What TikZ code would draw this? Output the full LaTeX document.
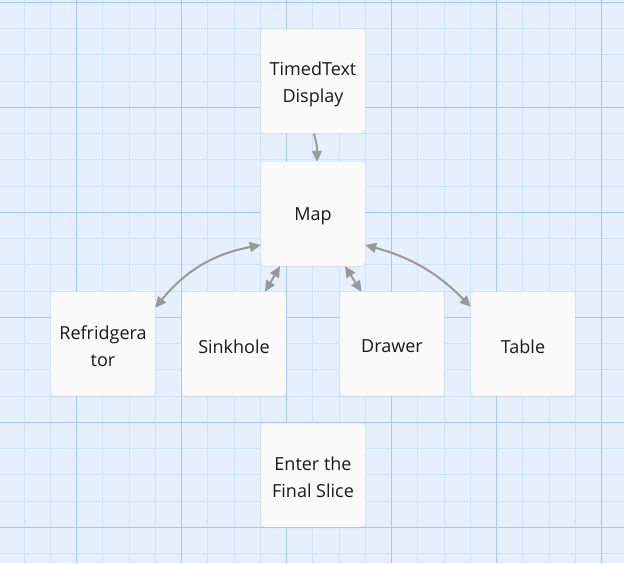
\documentclass[tikz,border=0pt]{standalone}
\usepackage{fontspec}
\setmainfont{Open Sans}
\usetikzlibrary{arrows.meta,calc,shadows}
\definecolor{bgc}{RGB}{230,240,253}
\definecolor{minorc}{RGB}{207,226,250}
\definecolor{majorc}{RGB}{163,202,246}
\definecolor{boxc}{RGB}{250,250,250}
\definecolor{arrc}{RGB}{153,153,153}
\tikzset{
  card/.style={draw=none, fill=boxc, rounded corners=4pt, minimum width=104pt, minimum height=104pt,
    inner sep=0pt,
    drop shadow={opacity=0.12, shadow xshift=0pt, shadow yshift=-1pt}},
  cardtext/.style={inner sep=0pt, align=center, font=\fontsize{18}{27}\selectfont, text=black!90},
  link/.style={draw=arrc, line width=2pt},
  tip/.style={-{Triangle[length=11pt,width=10pt]}},
  tips/.style={{Triangle[length=11pt,width=10pt]}-{Triangle[length=11pt,width=10pt]}}
}
\newcommand{\mycard}[3]{%
  \node[card] (#1) at (#2) {};
  \node[cardtext] (#1txt) at ($(#1.center)+(0,-2.5)$) {#3};}
\begin{document}
\begin{tikzpicture}[x=1pt,y=1pt]
\useasboundingbox (0,0) rectangle (624,563);
\fill[bgc] (0,0) rectangle (624,563);
\foreach \i in {0,...,23} \draw[minorc, line width=1pt] ({24.2+26.25*\i},0) -- ({24.2+26.25*\i},563);
\foreach \j in {0,...,21} \draw[minorc, line width=1pt] (0,{560.7-26.25*\j}) -- (624,{560.7-26.25*\j});
\foreach \k in {0,...,5} {
  \draw[majorc, line width=1pt] ({76.7+105*\k},0) -- ({76.7+105*\k},563);
  \draw[majorc, line width=1pt] (0,{560.7-105*\k}) -- (624,{560.7-105*\k});
}
\mycard{timed}{313,481.5}{TimedText\\Display}
\mycard{map}{313,349}{Map}
\mycard{refr}{103,219}{Refridgera\\tor}
\mycard{sink}{234,219}{Sinkhole}
\mycard{drawer}{392,219}{Drawer}
\mycard{table}{523,219}{Table}
\mycard{final}{313,88}{Enter the\\Final Slice}

\draw[link,tip] ($(timed.south)+(1,0)$) .. controls ($(timed.south)+(4,-12)$) .. ($(map.north)+(4,0)$);
\draw[link,tips] ($(map.west)+(0,-31)$) to[bend right=20] ($(refr.north east)+(0,-16)$);
\draw[link,tips] ($(map.south)+(-33,0)$) -- ($(sink.north)+(31,0)$);
\draw[link,tips] ($(map.south)+(32,0)$) -- ($(drawer.north)+(-30.5,0)$);
\draw[link,tips] ($(map.east)+(0,-31)$) to[bend left=15] ($(table.north west)+(0,-15)$);
\end{tikzpicture}
\end{document}
